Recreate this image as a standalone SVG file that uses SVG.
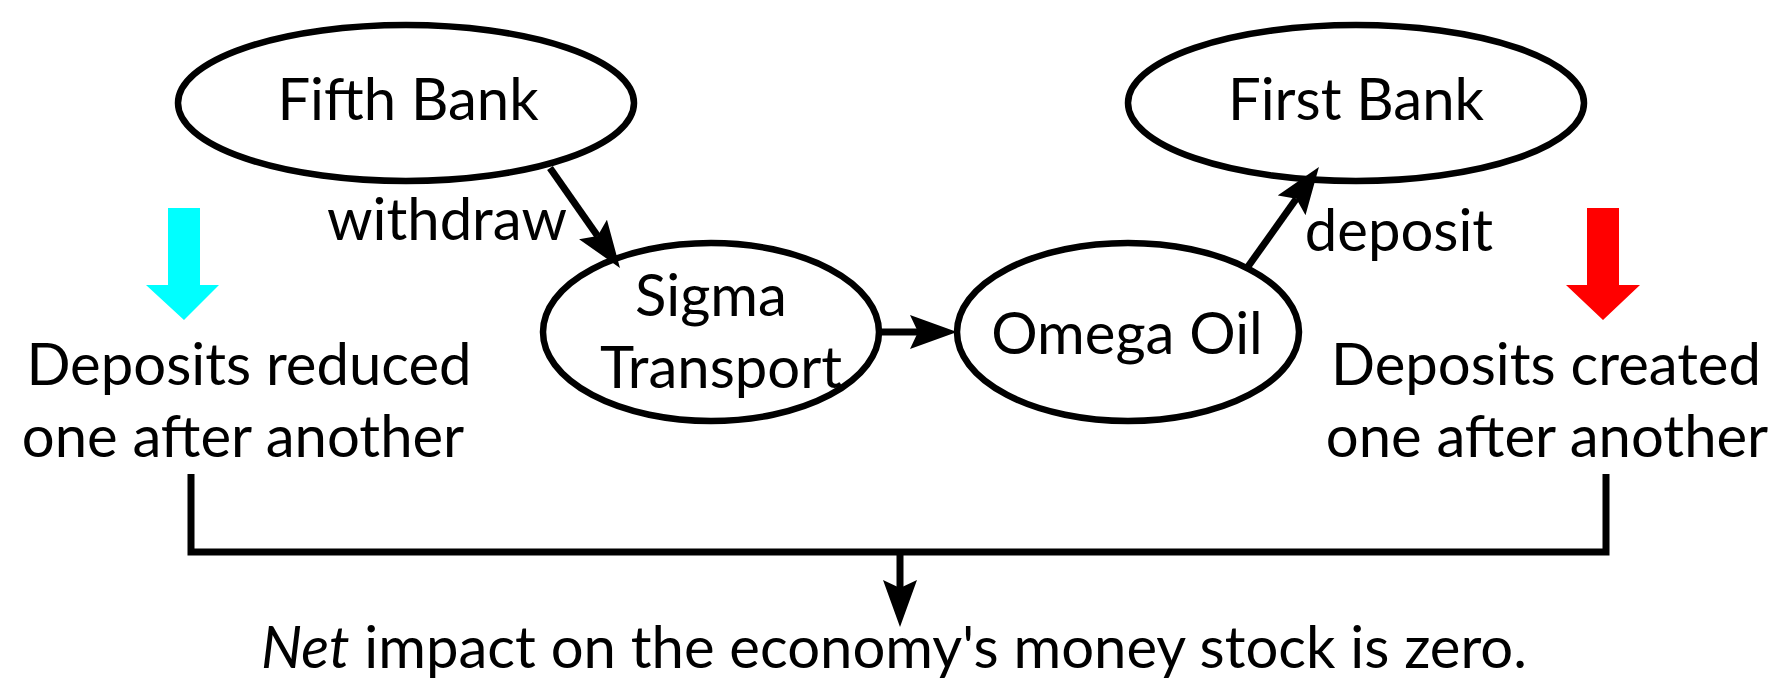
<svg xmlns="http://www.w3.org/2000/svg" width="1790" height="683" viewBox="0 0 1790 683">
<style>
.node{fill:#fff;stroke:#000;stroke-width:6.5}
text{font-family:Lato,"Open Sans",sans-serif;font-size:58px;fill:#000;text-anchor:middle}
.conn{stroke:#000;stroke-width:7;fill:none}
</style>
<defs>
<marker id="ah" viewBox="0 0 47 34" refX="8" refY="17" markerWidth="47" markerHeight="34" orient="auto" markerUnits="userSpaceOnUse">
<path d="M0,0 L47,17 L0,34 L8,17 z" fill="#000"/>
</marker>
</defs>
<rect width="1790" height="683" fill="#fff"/>
<g id="fifth-bank"><ellipse class="node" cx="406" cy="103" rx="228" ry="78"/><text x="408" y="120">Fifth Bank</text></g>
<g id="first-bank"><ellipse class="node" cx="1356" cy="103" rx="228" ry="78"/><text x="1356" y="120">First Bank</text></g>
<g id="sigma"><ellipse class="node" cx="711" cy="332" rx="168" ry="89"/><text x="711" y="316">Sigma</text><text x="721" y="388">Transport</text></g>
<g id="omega"><ellipse class="node" cx="1128" cy="332" rx="171" ry="89"/><text x="1127" y="354">Omega Oil</text></g>
<g id="connectors">
<line class="conn" x1="550" y1="168" x2="597.6" y2="236" marker-end="url(#ah)"/>
<line class="conn" x1="879" y1="332" x2="918" y2="332" marker-end="url(#ah)"/>
<line class="conn" x1="1247" y1="268" x2="1296.3" y2="198.8" marker-end="url(#ah)"/>
<polyline class="conn" points="191,474 191,552 1606,552 1606,474"/>
<line class="conn" x1="900" y1="552" x2="900" y2="588" marker-end="url(#ah)"/>
</g>
<g id="labels">
<text x="447" y="240">withdraw</text>
<text x="1399" y="251">deposit</text>
</g>
<g id="left-note">
<polygon points="168,208 200,208 200,285 219,285 184,320 146,285 168,285" fill="#00ffff"/>
<text x="249" y="385">Deposits reduced</text>
<text x="243" y="457">one after another</text>
</g>
<g id="right-note">
<polygon points="1587,208 1619,208 1619,285 1640,285 1603,320 1566,285 1587,285" fill="#ff0000"/>
<text x="1546" y="385">Deposits created</text>
<text x="1547" y="457">one after another</text>
</g>
<g id="conclusion"><text x="894" y="668"><tspan font-style="italic">Net</tspan> impact on the economy's money stock is zero.</text></g>
</svg>
